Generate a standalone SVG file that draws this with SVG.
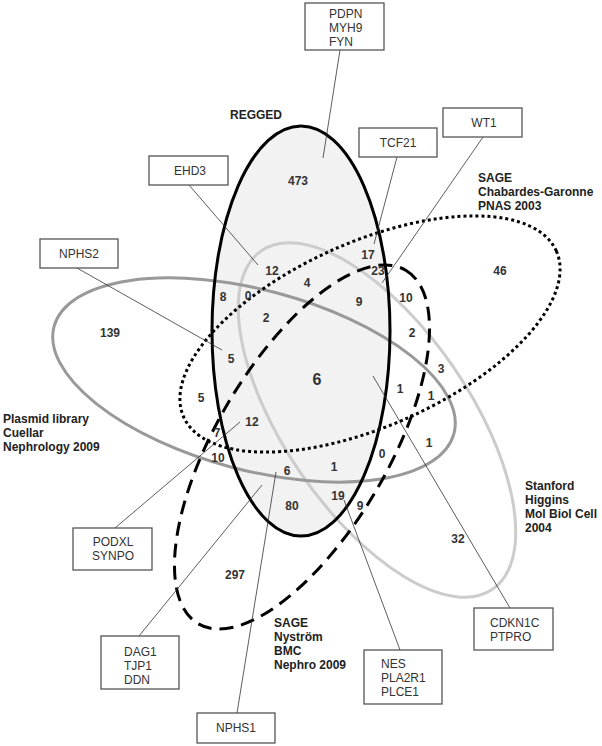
<svg xmlns="http://www.w3.org/2000/svg" width="602" height="746" viewBox="0 0 602 746">
<style>
.num{font-family:"Liberation Sans",Arial,sans-serif;font-size:12px;font-weight:bold;fill:#333;text-anchor:middle}
.set{font-family:"Liberation Sans",Arial,sans-serif;font-size:12px;font-weight:bold;fill:#222}
.gene{font-family:"Liberation Sans",Arial,sans-serif;font-size:12px;fill:#333}
.box{fill:#fff;stroke:#555;stroke-width:1.3}
.lead{stroke:#333;stroke-width:0.8;fill:none}
.ell{fill:none;stroke-width:3}
</style>
<rect width="602" height="746" fill="#fff"/>
<g id="sets">
<ellipse id="regged-fill" cx="301" cy="331" rx="89" ry="205" fill="#f2f2f2"/>
<ellipse id="stanford" class="ell" cx="377" cy="420" rx="205" ry="93" transform="rotate(55.7 377 420)" stroke="#cccccc"/>
<ellipse id="plasmid" class="ell" cx="254" cy="380" rx="207" ry="90" transform="rotate(15 254 380)" stroke="#999999"/>
<ellipse id="sage-cg" class="ell" cx="370" cy="334" rx="204" ry="92" transform="rotate(-24 370 334)" stroke="#000" stroke-dasharray="3 3"/>
<ellipse id="sage-ny" class="ell" cx="302" cy="447" rx="205" ry="86" transform="rotate(-59.6 302 447)" stroke="#000" stroke-dasharray="14 8"/>
<ellipse id="regged" class="ell" cx="301" cy="331" rx="89" ry="205" stroke="#000"/>
</g>
<g id="connectors">
<line class="lead" x1="340" y1="50" x2="323" y2="158"/>
<line class="lead" x1="397" y1="157" x2="374" y2="244"/>
<line class="lead" x1="483" y1="137" x2="382" y2="283"/>
<line class="lead" x1="189" y1="185" x2="258" y2="265"/>
<line class="lead" x1="77" y1="268" x2="222" y2="350"/>
<line class="lead" x1="115" y1="528" x2="240" y2="422"/>
<line class="lead" x1="139" y1="636" x2="262" y2="485"/>
<line class="lead" x1="237" y1="713" x2="276" y2="472"/>
<line class="lead" x1="400" y1="650" x2="344" y2="500"/>
<line class="lead" x1="510" y1="608" x2="373" y2="376"/>
</g>
<g id="box-pdpn"><rect class="box" x="305" y="3" width="79" height="47"/><text class="gene" x="329" y="18">PDPN</text><text class="gene" x="329" y="32">MYH9</text><text class="gene" x="329" y="46">FYN</text></g>
<g id="box-tcf21"><rect class="box" x="359" y="128" width="78" height="29"/><text class="gene" x="398" y="147" text-anchor="middle">TCF21</text></g>
<g id="box-wt1"><rect class="box" x="443" y="108" width="79" height="29"/><text class="gene" x="484" y="127" text-anchor="middle">WT1</text></g>
<g id="box-ehd3"><rect class="box" x="149" y="156" width="79" height="29"/><text class="gene" x="190" y="175" text-anchor="middle">EHD3</text></g>
<g id="box-nphs2"><rect class="box" x="40" y="239" width="78" height="29"/><text class="gene" x="79" y="258" text-anchor="middle">NPHS2</text></g>
<g id="box-podxl"><rect class="box" x="73" y="528" width="79" height="42"/><text class="gene" x="113" y="546" text-anchor="middle">PODXL</text><text class="gene" x="113" y="560" text-anchor="middle">SYNPO</text></g>
<g id="box-dag1"><rect class="box" x="101" y="636" width="78" height="53"/><text class="gene" x="124" y="656">DAG1</text><text class="gene" x="124" y="670">TJP1</text><text class="gene" x="124" y="684">DDN</text></g>
<g id="box-nphs1"><rect class="box" x="197" y="713" width="78" height="30"/><text class="gene" x="236" y="732" text-anchor="middle">NPHS1</text></g>
<g id="box-nes"><rect class="box" x="364" y="650" width="78" height="54"/><text class="gene" x="381" y="668">NES</text><text class="gene" x="381" y="682">PLA2R1</text><text class="gene" x="381" y="696">PLCE1</text></g>
<g id="box-cdkn1c"><rect class="box" x="474" y="608" width="79" height="42"/><text class="gene" x="490" y="627">CDKN1C</text><text class="gene" x="490" y="641">PTPRO</text></g>
<g id="set-labels">
<text class="set" x="230" y="119">REGGED</text>
<text class="set" x="478" y="182">SAGE</text>
<text class="set" x="478" y="196">Chabardes-Garonne</text>
<text class="set" x="478" y="210">PNAS 2003</text>
<text class="set" x="3" y="423">Plasmid library</text>
<text class="set" x="3" y="437">Cuellar</text>
<text class="set" x="3" y="451">Nephrology 2009</text>
<text class="set" x="525" y="490">Stanford</text>
<text class="set" x="525" y="504">Higgins</text>
<text class="set" x="525" y="518">Mol Biol Cell</text>
<text class="set" x="525" y="532">2004</text>
<text class="set" x="274" y="627">SAGE</text>
<text class="set" x="274" y="641">Nyström</text>
<text class="set" x="274" y="655">BMC</text>
<text class="set" x="274" y="669">Nephro 2009</text>
</g>
<g id="counts">
<text class="num" x="298" y="185">473</text>
<text class="num" x="272" y="275">12</text>
<text class="num" x="368" y="259">17</text>
<text class="num" x="378" y="275">23</text>
<text class="num" x="307" y="287">4</text>
<text class="num" x="223" y="301">8</text>
<text class="num" x="248" y="300">0</text>
<text class="num" x="359" y="306">9</text>
<text class="num" x="406" y="302">10</text>
<text class="num" x="266" y="322">2</text>
<text class="num" x="412" y="337">2</text>
<text class="num" x="231" y="363">5</text>
<text class="num" x="317" y="385" style="font-size:16px">6</text>
<text class="num" x="400" y="393">1</text>
<text class="num" x="201" y="402">5</text>
<text class="num" x="252" y="426">12</text>
<text class="num" x="217" y="437">7</text>
<text class="num" x="218" y="462">10</text>
<text class="num" x="382" y="458">0</text>
<text class="num" x="334" y="471">1</text>
<text class="num" x="287" y="475">6</text>
<text class="num" x="338" y="500">19</text>
<text class="num" x="292" y="510">80</text>
<text class="num" x="360" y="510">9</text>
<text class="num" x="441" y="373">3</text>
<text class="num" x="431" y="400">1</text>
<text class="num" x="429" y="447">1</text>
<text class="num" x="500" y="275">46</text>
<text class="num" x="110" y="337">139</text>
<text class="num" x="235" y="579">297</text>
<text class="num" x="458" y="543">32</text>
</g>
</svg>
